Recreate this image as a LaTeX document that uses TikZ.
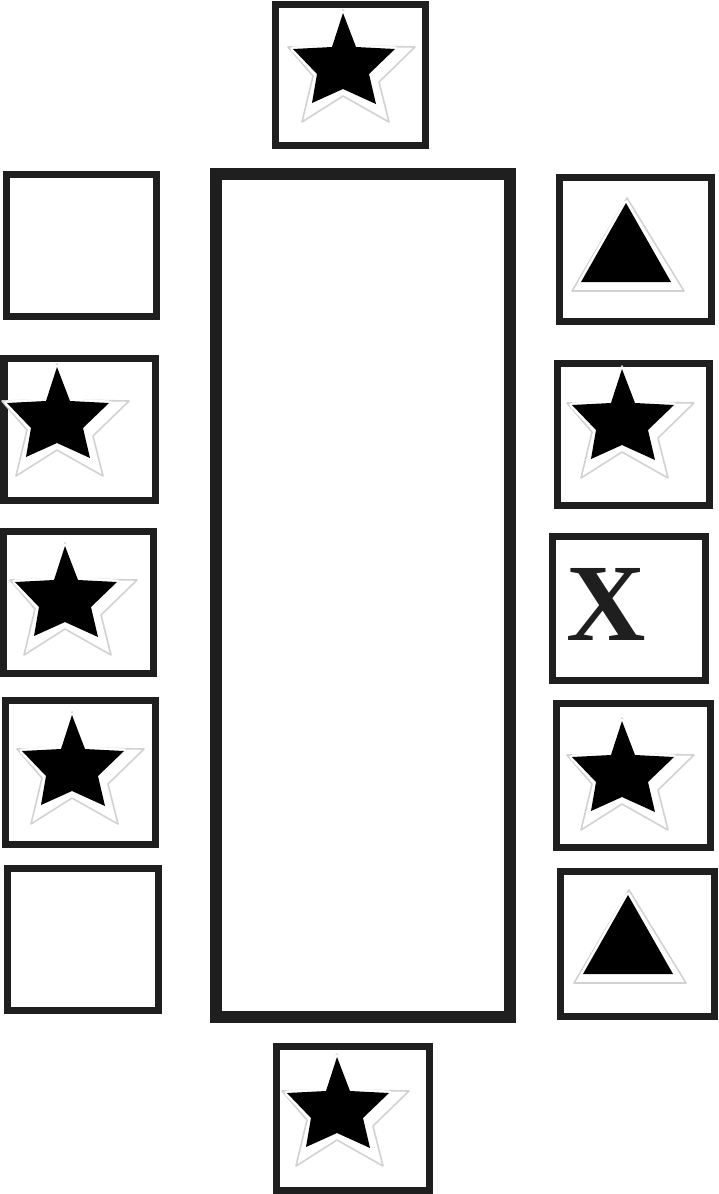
\documentclass[tikz,border=0pt]{standalone}
\usepackage{fontspec}
\newfontfamily\xfont{Liberation Serif}
\begin{document}
\begin{tikzpicture}[x=1pt,y=-1pt,
  box/.style={draw=black!88, line width=7pt},
  tablebox/.style={draw=black!88, line width=12pt},
  starpic/.pic={
    \path[fill=white,draw=gray!35,line width=1.6pt,line join=round]
      (0,-53) -- (14,-17) -- (72,-16) -- (36,19) -- (46,59) -- (0,33) -- (-41,59) -- (-30,13) -- (-55,-16) -- (-12,-17) -- cycle;
    \path[draw=white,line width=5pt,line join=round]
      (0,-50) -- (13,-16) -- (52,-14) -- (26,11) -- (33,41) -- (0,26) -- (-31,40) -- (-26,11) -- (-50,-14) -- (-11,-16) -- cycle;
    \fill[black]
      (0,-50) -- (13,-16) -- (52,-14) -- (26,11) -- (33,41) -- (0,26) -- (-31,40) -- (-26,11) -- (-50,-14) -- (-11,-16) -- cycle;
  },
  tripic/.pic={
    \path[fill=white,draw=gray!35,line width=1.6pt,line join=round] (1,-5) -- (-54,88) -- (58,88) -- cycle;
    \path[draw=white,line width=5pt,line join=round] (0,0) -- (-45,79) -- (45,79) -- cycle;
    \fill[black] (0,0) -- (-45,79) -- (45,79) -- cycle;
  }]
\useasboundingbox (0,0) rectangle (718,1194);
\fill[white] (0,0) rectangle (718,1194);

% table
\draw[tablebox] (216,174) rectangle (510,1017);

% top and bottom seats
\draw[box] (275.5,4.5) rectangle (425.5,145.5);
\pic at (343,63) {starpic};
\draw[box] (276,1046) rectangle (429,1190);
\pic at (337,1107) {starpic};

% left seats
\draw[box] (6,174) rectangle (156,316);
\draw[box] (4,358) rectangle (155,500);
\pic at (57,417) {starpic};
\draw[box] (3,531) rectangle (153,673);
\pic at (65,596) {starpic};
\draw[box] (5,700) rectangle (155,844);
\pic at (72,765) {starpic};
\draw[box] (7.5,868) rectangle (158.5,1010);

% right seats
\draw[box] (559,177) rectangle (711,321);
\pic at (626,203) {tripic};
\draw[box] (557,363) rectangle (709,505);
\pic at (622,419) {starpic};
\draw[box] (552,536) rectangle (705,680);
\node[font=\xfont\bfseries\fontsize{110}{110}\selectfont, inner sep=0pt, anchor=base, text=black!88] (xmark) at (606,640) {X};
\draw[box] (556,703) rectangle (710,847);
\pic at (622,771) {starpic};
\draw[box] (560,871) rectangle (714,1016);
\pic at (628,895) {tripic};
\end{tikzpicture}
\end{document}
